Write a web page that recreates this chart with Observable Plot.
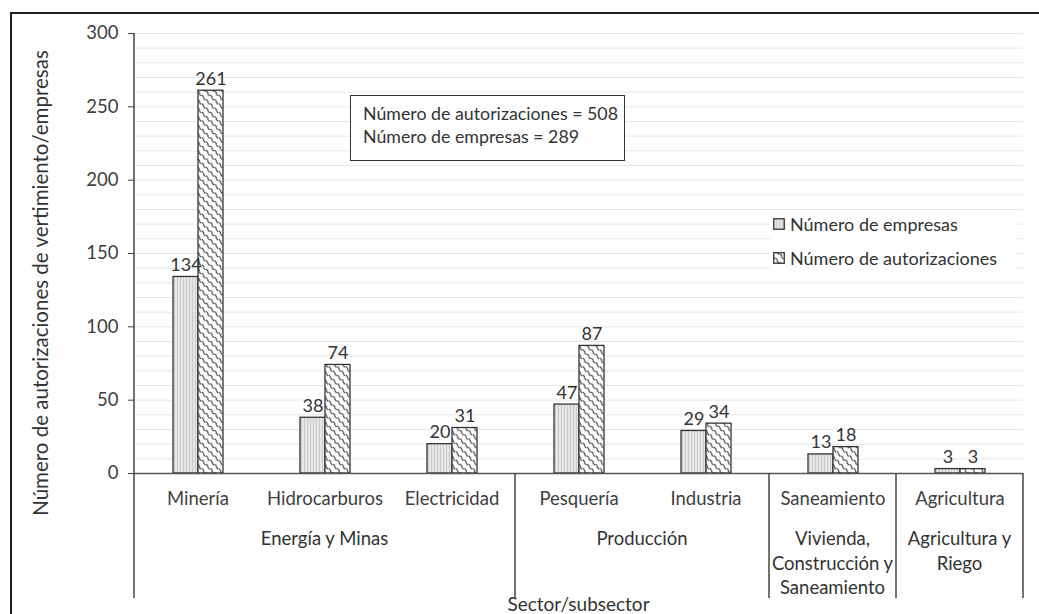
<!DOCTYPE html>
<html>
<head>
<meta charset="utf-8">
<script src="https://cdn.jsdelivr.net/npm/d3@7"></script>
<script src="https://cdn.jsdelivr.net/npm/@observablehq/plot@0.6"></script>
<style>
  html, body { margin: 0; padding: 0; background: #fff; }
  #wrap { position: relative; width: 1039px; height: 614px; overflow: hidden; font-family: Lato, sans-serif; color: #404040; }
  #border { position: absolute; left: 10px; top: 12px; width: 3000px; height: 3000px; border-left: 2px solid #1e1e1e; border-top: 2px solid #1e1e1e; pointer-events: none; }
  #chart { position: absolute; left: 0; top: 0; }
  #textbox { position: absolute; left: 350px; top: 95px; width: 275px; height: 66px; box-sizing: border-box; border: 1.5px solid #333; background: #fff; padding: 6px 0 0 12px; font-size: 17.8px; line-height: 23px; color: #333; white-space: nowrap; overflow: visible; }
  #legend { position: absolute; left: 770px; top: 210px; width: 245px; height: 64px; background: #fff; font-size: 18px; color: #333; }
  .lrow { position: absolute; left: 3px; display: flex; align-items: center; height: 20px; white-space: nowrap; }
  .lrow svg { margin-right: 5px; }
</style>
</head>
<body>
<svg width="0" height="0" style="position:absolute">
  <defs>
    <pattern id="pEmp" patternUnits="userSpaceOnUse" width="3" height="10">
      <rect width="3" height="10" fill="#e6e6e6"></rect>
      <line x1="0.5" y1="0" x2="0.5" y2="10" stroke="#cbcbcb" stroke-width="1"></line>
    </pattern>
    <pattern id="pAut" patternUnits="userSpaceOnUse" width="6" height="6" patternTransform="rotate(45)">
      <rect width="6" height="6" fill="#fff"></rect>
      <path d="M0,3 C1.5,0.2 4.5,5.8 6,3" fill="none" stroke="#3a3a3a" stroke-width="1.1"></path>
    </pattern>
  </defs>
</svg>
<div id="wrap">
  <div id="chart"></div>
  <div id="border"></div>
  <div id="textbox"></div>
  <div id="legend"></div>
</div>
<script>
// ---- data ----
const subsectors = ["Minería", "Hidrocarburos", "Electricidad", "Pesquería", "Industria", "Saneamiento", "Agricultura"];
const sectors = ["Energía y Minas", "Energía y Minas", "Energía y Minas", "Producción", "Producción", "Vivienda, Construcción y Saneamiento", "Agricultura y Riego"];
const empresas = [134, 38, 20, 47, 29, 13, 3];
const autorizaciones = [261, 74, 31, 87, 34, 18, 3];
const series = ["Número de empresas", "Número de autorizaciones"];
const seriesFill = ["url(#pEmp)", "url(#pAut)"];
const yTicks = [0, 50, 100, 150, 200, 250, 300];
const yGrid = d3.range(10, 301, 10);
const totals = [["Número de autorizaciones", 508], ["Número de empresas", 289]];
const yLabel = "Número de autorizaciones de vertimiento/empresas";
const xLabel = "Sector/subsector";

const rows = subsectors.flatMap((sub, i) => [
  {sub, serie: series[0], value: empresas[i]},
  {sub, serie: series[1], value: autorizaciones[i]}
]);

const FONT = "Lato, sans-serif";
const FS = 18.5;

const plot = Plot.plot({
  width: 1039,
  height: 614,
  marginLeft: 134,
  marginRight: 16,
  marginTop: 33,
  marginBottom: 141,
  style: {fontFamily: FONT, fontSize: FS + "px", color: "#404040", background: "transparent", overflow: "visible"},
  fx: {domain: subsectors, padding: 0, label: null, axis: "bottom", tickSize: 0, tickPadding: 18},
  x: {domain: series, paddingInner: 0, paddingOuter: 1.5, axis: null},
  y: {domain: [0, 300], ticks: yTicks, tickSize: 6, tickPadding: 10, label: null},
  marks: [
    Plot.ruleY(yGrid, {stroke: "#e6e6e6", strokeWidth: 1}),
    ...series.map((s, k) => Plot.barY(rows, {
      filter: d => d.serie === s,
      fx: "sub", x: "serie", y: "value",
      fill: seriesFill[k], stroke: "#333", strokeWidth: 1.3
    })),
    Plot.text(rows, {fx: "sub", x: "serie", y: "value", text: d => String(d.value), dy: -6, lineAnchor: "bottom", fill: "#333", fontSize: 18}),
    Plot.ruleY([0], {stroke: "#555", strokeWidth: 1.5})
  ]
});
document.getElementById("chart").append(plot);

// ---- extra axis decorations drawn through the plot's scales ----
const svg = d3.select(plot);
const fx = plot.scale("fx");
const ys = plot.scale("y");
const bw = fx.bandwidth;
const y0 = ys.apply(0), yTop = ys.apply(300);
const bottomExt = 125;

const groups = [];
sectors.forEach((s, i) => {
  const g = groups[groups.length - 1];
  if (!g || g.name !== s) groups.push({name: s, start: i, end: i});
  else g.end = i;
});
groups.forEach(g => {
  g.left = fx.apply(subsectors[g.start]);
  g.right = fx.apply(subsectors[g.end]) + bw;
});

const deco = svg.append("g").attr("stroke", "#444").attr("stroke-width", 1.5);
deco.append("line").attr("x1", groups[0].left).attr("x2", groups[0].left).attr("y1", yTop).attr("y2", y0 + bottomExt);
groups.forEach(g => {
  deco.append("line").attr("x1", g.right).attr("x2", g.right).attr("y1", y0).attr("y2", y0 + bottomExt);
});

// word-wrap helper
const ctx = document.createElement("canvas").getContext("2d");
ctx.font = `${FS}px ${FONT}`;
function wrap(text, maxW) {
  const words = text.split(" ");
  const lines = [];
  let cur = "";
  for (const w of words) {
    const t = cur ? cur + " " + w : w;
    if (ctx.measureText(t).width > maxW && cur) { lines.push(cur); cur = w; }
    else cur = t;
  }
  if (cur) lines.push(cur);
  return lines;
}

const gl = svg.append("g").attr("fill", "#333").attr("font-family", FONT).attr("font-size", FS).attr("text-anchor", "middle");
groups.forEach(g => {
  const lines = wrap(g.name, g.right - g.left + 2);
  const cx = (g.left + g.right) / 2;
  const t = gl.append("text").attr("x", cx).attr("y", y0 + 72);
  lines.forEach((ln, i) => t.append("tspan").attr("x", cx).attr("dy", i ? 24.5 : 0).text(ln));
});

// axis titles
const xMid = (groups[0].left + groups[groups.length - 1].right) / 2;
svg.append("text").attr("x", xMid).attr("y", y0 + 138).attr("text-anchor", "middle")
  .attr("fill", "#333").attr("font-family", FONT).attr("font-size", 19).text(xLabel);
svg.append("text").attr("transform", `translate(48,${(yTop + y0) / 2 + 30}) rotate(-90)`)
  .attr("text-anchor", "middle").attr("fill", "#333").attr("font-family", FONT).attr("font-size", 20.5).text(yLabel);

// text box with totals
d3.select("#textbox").selectAll("div").data(totals).join("div").text(d => `${d[0]} = ${d[1]}`);

// legend
const leg = d3.select("#legend");
series.forEach((s, k) => {
  const row = leg.append("div").attr("class", "lrow").style("top", (k === 0 ? 4 : 38) + "px");
  const sw = row.append("svg").attr("width", 12).attr("height", 12);
  sw.append("rect").attr("x", 0.75).attr("y", 0.75).attr("width", 10.5).attr("height", 10.5)
    .attr("fill", seriesFill[k]).attr("stroke", "#333").attr("stroke-width", 1.3);
  row.append("span").text(s);
});
</script>
</body>
</html>
